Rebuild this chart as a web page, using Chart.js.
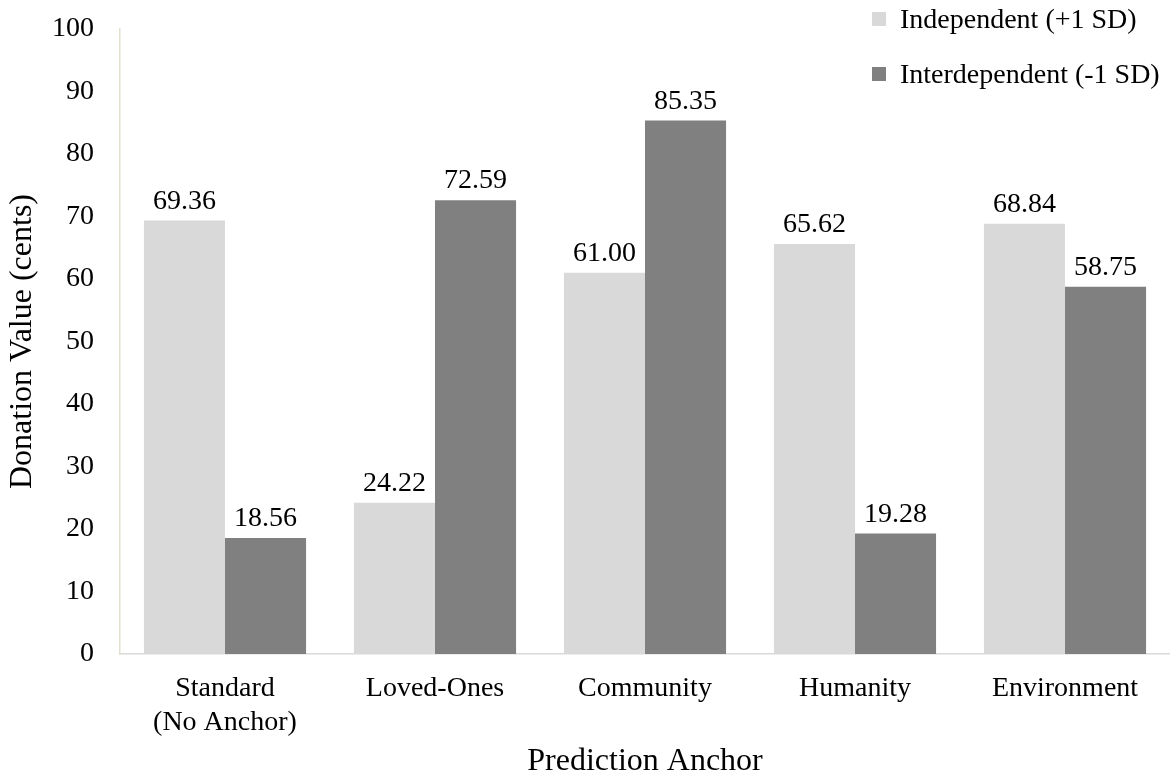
<!DOCTYPE html>
<html>
<head>
<meta charset="utf-8">
<script src="https://cdn.jsdelivr.net/npm/chart.js@4.4.1/dist/chart.umd.min.js"></script>
<style>
  html, body { margin: 0; padding: 0; background: #ffffff; }
  #wrap { width: 1170px; height: 778px; position: relative; }
</style>
</head>
<body>
<div id="wrap"><canvas id="c" width="1170" height="778"></canvas></div>
<script>
const categories = [["Standard", "(No Anchor)"], "Loved-Ones", "Community", "Humanity", "Environment"];
const independentValues = [69.36, 24.22, 61.00, 65.62, 68.84];
const interdependentValues = [18.56, 72.59, 85.35, 19.28, 58.75];
const seriesNames = ["Independent (+1 SD)", "Interdependent (-1 SD)"];
const yTicks = [0, 10, 20, 30, 40, 50, 60, 70, 80, 90, 100];
const xTitle = "Prediction Anchor";
const yTitle = "Donation Value (cents)";

const FONT = "'Liberation Serif', 'Times New Roman', serif";
const colors = ["#d9d9d9", "#808080"];

const dataLabels = {
  id: 'dataLabels',
  afterDatasetsDraw(chart) {
    const ctx = chart.ctx;
    ctx.save();
    ctx.font = "28px " + FONT;
    ctx.fillStyle = "#000000";
    ctx.textAlign = "center";
    ctx.textBaseline = "alphabetic";
    chart.data.datasets.forEach((ds, i) => {
      const meta = chart.getDatasetMeta(i);
      meta.data.forEach((bar, j) => {
        ctx.fillText(ds.data[j].toFixed(2), bar.x, bar.y - 12);
      });
    });
    ctx.restore();
  }
};

const customLegend = {
  id: 'customLegend',
  afterDraw(chart) {
    const ctx = chart.ctx;
    ctx.save();
    ctx.font = "28px " + FONT;
    ctx.textAlign = "left";
    ctx.textBaseline = "alphabetic";
    const baselines = [28, 83];
    chart.data.datasets.forEach((ds, i) => {
      const b = baselines[i];
      ctx.fillStyle = ds.backgroundColor;
      ctx.fillRect(872, b - 16, 14, 14);
      ctx.fillStyle = "#000000";
      ctx.fillText(ds.label, 900, b);
    });
    ctx.restore();
  }
};

new Chart(document.getElementById('c'), {
  type: 'bar',
  data: {
    labels: categories,
    datasets: [
      { label: seriesNames[0], data: independentValues, backgroundColor: colors[0], borderWidth: 0 },
      { label: seriesNames[1], data: interdependentValues, backgroundColor: colors[1], borderWidth: 0 }
    ]
  },
  options: {
    responsive: false,
    animation: false,
    devicePixelRatio: 1,
    layout: { padding: { top: 29, right: 0, left: 0, bottom: 0 } },
    plugins: {
      legend: { display: false },
      tooltip: { enabled: false },
      title: { display: false }
    },
    datasets: {
      bar: { categoryPercentage: 0.772, barPercentage: 1.0 }
    },
    scales: {
      x: {
        grid: { display: false, drawTicks: false },
        border: { display: true, color: "#d9d9d9", width: 1.5 },
        ticks: { color: "#000000", font: { family: FONT, size: 28 }, padding: 18, maxRotation: 0, autoSkip: false },
        title: { display: true, text: xTitle, color: "#000000", font: { family: FONT, size: 32, lineHeight: 1.0 }, padding: { top: 0, bottom: 0 } },
        afterFit(scale) { scale.height = 124; scale.paddingLeft = 0; scale.paddingRight = 0; }
      },
      y: {
        min: 0, max: 100,
        afterBuildTicks(scale) { scale.ticks = yTicks.map(v => ({ value: v })); },
        grid: { display: false, drawTicks: false },
        border: { display: true, color: "#e3dfd0", width: 1.5 },
        ticks: { color: "#000000", font: { family: FONT, size: 28 }, padding: 26 },
        title: { display: true, text: yTitle, color: "#000000", font: { family: FONT, size: 32 }, padding: { top: 3, bottom: 0 } },
        afterFit(scale) { scale.width = 120; scale.paddingTop = 0; scale.paddingBottom = 0; }
      }
    }
  },
  plugins: [dataLabels, customLegend]
});
</script>
</body>
</html>
